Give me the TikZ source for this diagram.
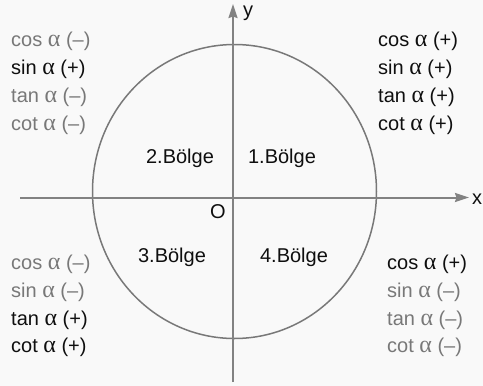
\documentclass[tikz,border=0pt]{standalone}
\usepackage{fontspec}
\setmainfont{Liberation Sans}
\newfontfamily\grk[Scale=1.2]{Liberation Serif}
\usetikzlibrary{arrows.meta}
\definecolor{bg}{RGB}{249,249,249}
\definecolor{axisgray}{RGB}{130,130,130}
\definecolor{circgray}{RGB}{120,120,120}
\definecolor{txtgray}{RGB}{120,120,120}
\definecolor{txtblack}{RGB}{15,15,15}
\newcommand{\trg}[2]{#1 {\grk α} (#2)}
\begin{document}
\begin{tikzpicture}[x=1pt,y=-1pt,
  axis/.style={draw=axisgray,line width=2pt},
  arr/.style={-{Stealth[length=14pt,width=9pt,inset=1.5pt]}},
  circ/.style={draw=circgray,line width=1.5pt},
  lbl/.style={inner sep=0pt,font=\fontsize{20}{24}\selectfont},
  plustxt/.style={lbl,text=txtblack,anchor=west},
  minustxt/.style={lbl,text=txtgray,anchor=west},
  zone/.style={lbl,text=txtblack}]
\fill[bg] (0,0) rectangle (483,386);
\useasboundingbox (0,0) rectangle (483,386);
% axes
\coordinate (xl) at (20,197.5);
\coordinate (xr) at (469,197.5);
\coordinate (yb) at (233,382);
\coordinate (yt) at (233,4);
\coordinate (c) at (234.5,191.5);
\draw[circ] (c) ellipse [x radius=142pt, y radius=147pt];
\draw[axis,arr] (xl) -- (xr);
\draw[axis,arr] (yb) -- (yt);
\node[lbl,text=txtblack] (xlab) at (477,199) {x};
\node[lbl,text=txtblack] (ylab) at (248,13) {y};
\node[lbl,text=txtblack] (o) at (218,212) {O};
% zone labels
\node[zone] (z2) at (180,158) {2.Bölge};
\node[zone] (z1) at (282,158) {1.Bölge};
\node[zone] (z3) at (172,257) {3.Bölge};
\node[zone] (z4) at (294,257) {4.Bölge};
% top-left
\node[minustxt] (tl1) at (11,41) {\trg{cos}{–}};
\node[plustxt] (tl2) at (11,69) {\trg{sin}{+}};
\node[minustxt] (tl3) at (11,97) {\trg{tan}{–}};
\node[minustxt] (tl4) at (11,125) {\trg{cot}{–}};
% top-right
\node[plustxt] (tr1) at (378,41) {\trg{cos}{+}};
\node[plustxt] (tr2) at (378,69) {\trg{sin}{+}};
\node[plustxt] (tr3) at (378,97) {\trg{tan}{+}};
\node[plustxt] (tr4) at (378,125) {\trg{cot}{+}};
% bottom-left
\node[minustxt] (bl1) at (11,264) {\trg{cos}{–}};
\node[minustxt] (bl2) at (11,292) {\trg{sin}{–}};
\node[plustxt] (bl3) at (11,320) {\trg{tan}{+}};
\node[plustxt] (bl4) at (11,347) {\trg{cot}{+}};
% bottom-right
\node[plustxt] (br1) at (387,264) {\trg{cos}{+}};
\node[minustxt] (br2) at (387,292) {\trg{sin}{–}};
\node[minustxt] (br3) at (387,320) {\trg{tan}{–}};
\node[minustxt] (br4) at (387,347) {\trg{cot}{–}};
\end{tikzpicture}
\end{document}
